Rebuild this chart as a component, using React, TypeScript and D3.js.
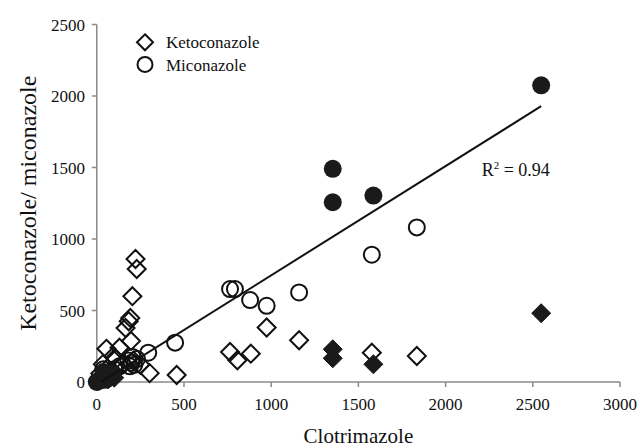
import React from 'react';
import * as d3 from 'd3';

// clotrimazole (x) vs ketoconazole / miconazole (y)

const xTicks = [0, 500, 1000, 1500, 2000, 2500, 3000];
const yTicks = [0, 500, 1000, 1500, 2000, 2500];

const ketoOpen: [number, number][] = [
  [222, 860], [229, 790], [204, 600], [192, 448], [183, 425], [165, 378],
  [196, 287], [55, 232], [130, 240], [303, 62], [458, 49], [35, 125],
  [95, 180], [764, 210], [806, 152], [883, 198], [974, 381], [1160, 292],
  [1577, 205], [1835, 182], [150, 130], [110, 160], [60, 95], [20, 60],
  [210, 150], [250, 120]
];

const micoOpen: [number, number][] = [
  [764, 650], [792, 650], [879, 573], [974, 533], [1160, 626], [1577, 890],
  [1835, 1081], [449, 275], [295, 205], [200, 135], [180, 150], [215, 120],
  [230, 160], [190, 110], [205, 175], [37, 89], [76, 65], [100, 90],
  [130, 110], [60, 45]
];

const ketoFilled: [number, number][] = [
  [1353, 229], [1353, 166], [1586, 124], [2548, 481],
  [5, 5], [20, 35], [45, 50], [65, 20], [100, 30]
];

const micoFilled: [number, number][] = [
  [1353, 1491], [1353, 1257], [1586, 1304], [2548, 2075],
  [0, 0], [15, 10], [30, 25], [50, 15], [70, 40], [90, 60], [40, 70]
];

// linear trend line (all data)
const trendSlope = 0.764;
const trendIntercept = -18;
const trendRange = [25, 2548];
const rSquared = '0.94';

const font = "'Liberation Serif', 'Times New Roman', serif";
const axisColor = '#8a8a8a';

export default function App() {
  const x = d3.scaleLinear().domain([0, 3000]).range([96.8, 620]);
  const y = d3.scaleLinear().domain([0, 2500]).range([382, 24.5]);

  const dia = (cx: number, cy: number, r: number) =>
    `M${cx},${cy - r}L${cx + r},${cy}L${cx},${cy + r}L${cx - r},${cy}Z`;

  const line = d3.line<number>()
    .x((d) => x(d))
    .y((d) => y(trendSlope * d + trendIntercept));

  const txt = { fontFamily: font, fill: '#111' };

  return (
    <svg width={640} height={448} style={{ position: 'absolute', left: 0, top: 0, background: '#fff' }}>
      {/* axes */}
      <line x1={x(0)} x2={x(3000)} y1={y(0)} y2={y(0)} stroke={axisColor} strokeWidth={1.5} />
      <line x1={x(0)} x2={x(0)} y1={y(0)} y2={y(2500)} stroke={axisColor} strokeWidth={1.5} />
      {xTicks.map((t) => (
        <g key={'x' + t}>
          <line x1={x(t)} x2={x(t)} y1={y(0)} y2={y(0) + 5} stroke={axisColor} strokeWidth={1.5} />
          <text x={x(t)} y={410} textAnchor='middle' fontSize={17} style={txt}>{t}</text>
        </g>
      ))}
      {yTicks.map((t) => (
        <g key={'y' + t}>
          <line x1={x(0) - 5} x2={x(0)} y1={y(t)} y2={y(t)} stroke={axisColor} strokeWidth={1.5} />
          <text x={85} y={y(t) + 6} textAnchor='end' fontSize={17} style={txt}>{t}</text>
        </g>
      ))}
      <text x={(x(0) + x(3000)) / 2} y={443} textAnchor='middle' fontSize={21} style={txt}>Clotrimazole</text>
      <text transform={`translate(36,${(y(0) + y(2500)) / 2}) rotate(-90)`} textAnchor='middle'
        fontSize={24} style={txt}>
        Ketoconazole/ miconazole
      </text>

      {/* open markers */}
      {ketoOpen.map((d, i) => (
        <path key={'ko' + i} d={dia(x(d[0]), y(d[1]), 9)} fill='none' stroke='#111' strokeWidth={2} />
      ))}
      {micoOpen.map((d, i) => (
        <circle key={'mo' + i} cx={x(d[0])} cy={y(d[1])} r={8} fill='none' stroke='#111' strokeWidth={2} />
      ))}
      {/* filled markers */}
      {ketoFilled.map((d, i) => (
        <path key={'kf' + i} d={dia(x(d[0]), y(d[1]), 9.5)} fill='#1a1a1a' stroke='#1a1a1a' strokeWidth={1} />
      ))}
      {micoFilled.map((d, i) => (
        <circle key={'mf' + i} cx={x(d[0])} cy={y(d[1])} r={9} fill='#1a1a1a' />
      ))}

      {/* trend line */}
      <path d={line(trendRange) || ''} fill='none' stroke='#111' strokeWidth={2} />
      <text x={481.7} y={176} fontSize={18} style={txt}>
        R<tspan fontSize={11} dy={-7}>2</tspan><tspan dy={7}> = {rSquared}</tspan>
      </text>

      {/* legend */}
      <path d={dia(145, 42.3, 8)} fill='none' stroke='#111' strokeWidth={2} />
      <text x={166} y={48} fontSize={17} style={txt}>Ketoconazole</text>
      <circle cx={145} cy={64.5} r={7.5} fill='none' stroke='#111' strokeWidth={2} />
      <text x={166} y={70.5} fontSize={17} style={txt}>Miconazole</text>
    </svg>
  );
}
